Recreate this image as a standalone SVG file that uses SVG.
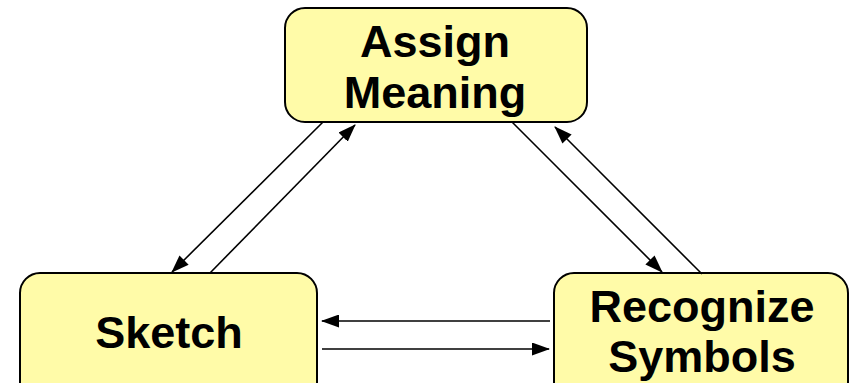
<svg xmlns="http://www.w3.org/2000/svg" width="853" height="383" viewBox="0 0 853 383">
<defs>
<marker id="ah" markerWidth="18" markerHeight="13" refX="17" refY="6.5" orient="auto" markerUnits="userSpaceOnUse">
<path d="M0,0 L18,6.5 L0,13 Z" fill="#000"/>
</marker>
<style>
.box{fill:#FFFBA8;stroke:#000;stroke-width:2}
.lbl{font-family:"Liberation Sans",Arial,sans-serif;font-weight:bold;font-size:45px;fill:#000;text-anchor:middle}
.c{stroke:#000;stroke-width:1.6;fill:none;marker-end:url(#ah)}
</style>
</defs>
<rect width="853" height="383" fill="#fff"/>
<g id="assign">
<rect class="box" x="285" y="8" width="302" height="114" rx="20"/>
<text class="lbl" x="435" y="57">Assign</text>
<text class="lbl" x="435" y="108">Meaning</text>
</g>
<g id="sketch">
<rect class="box" x="20" y="273" width="297" height="130" rx="20"/>
<text class="lbl" x="169" y="348">Sketch</text>
</g>
<g id="recognize">
<rect class="box" x="554" y="273" width="294" height="130" rx="20"/>
<text class="lbl" x="702" y="322">Recognize</text>
<text class="lbl" x="702" y="372">Symbols</text>
</g>
<g id="connectors">
<line class="c" x1="323" y1="122" x2="172" y2="272"/>
<line class="c" x1="210" y1="273" x2="355" y2="125"/>
<line class="c" x1="512" y1="122" x2="662" y2="272"/>
<line class="c" x1="702" y1="274" x2="555" y2="127"/>
<line class="c" x1="550" y1="321" x2="322" y2="321"/>
<line class="c" x1="322" y1="349" x2="549" y2="349"/>
</g>
</svg>
